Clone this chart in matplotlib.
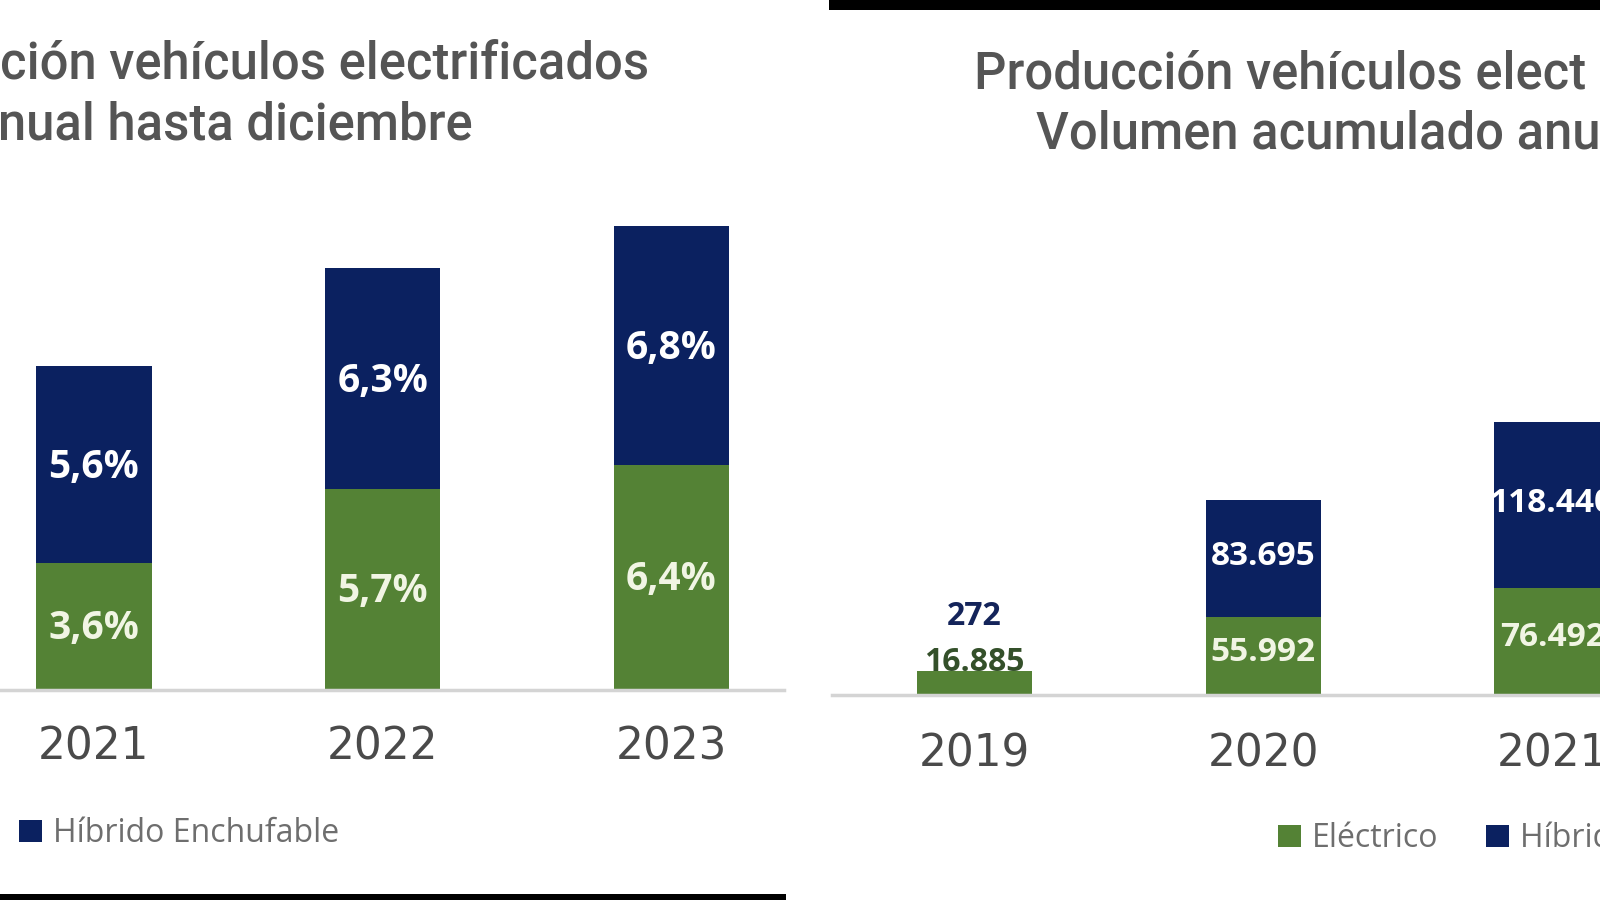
import matplotlib
matplotlib.use("Agg")
import matplotlib.pyplot as plt
from matplotlib.patches import Rectangle, Patch

# ---------------- data ----------------
years_left = ["2021", "2022", "2023"]
elec_pct = [3.6, 5.7, 6.4]
phev_pct = [5.6, 6.3, 6.8]

years_right = ["2019", "2020", "2021"]
elec_units = [16885, 55992, 76492]
phev_units = [272, 83695, 118440]

series_names = ["Eléctrico", "Híbrido Enchufable"]
title_left = ["ción vehículos electrificados", "nual hasta diciembre"]
title_right = ["Producción vehículos elect", "Volumen acumulado anua"]

# ---------------- style ----------------
GREEN = "#548235"
NAVY = "#0b2160"
GRAY_TXT = "#555555"
YEAR_TXT = "#4a4a4a"
LEG_TXT = "#6e6e6e"
AXIS_GRAY = "#d4d4d4"

W, H = 1568.0, 882.0  # reference pixel frame


def fx(p):
    return p / W


def fy(p):
    return 1 - p / H


fig = plt.figure(figsize=(16, 9), dpi=100)
fig.patch.set_facecolor("white")

lab_font = ["Open Sans", "DejaVu Sans"]
title_font = ["Roboto", "DejaVu Sans"]


def fmt_units(v):
    return f"{v:,}".replace(",", ".")


def fmt_pct(v):
    return f"{v:.1f}%".replace(".", ",")


def style_axis(ax, labels, pad):
    for s in ["top", "right", "left"]:
        ax.spines[s].set_visible(False)
    ax.spines["bottom"].set_color(AXIS_GRAY)
    ax.spines["bottom"].set_linewidth(2.5)
    ax.set_yticks([])
    ax.set_xticks(range(len(labels)))
    ax.set_xticklabels(labels, fontsize=31.5, color=YEAR_TXT,
                       family=["DejaVu Sans"])
    ax.tick_params(axis="x", length=0, pad=pad)
    ax.set_facecolor("none")


# ---------------- left panel ----------------
spacing = 283.0
bw = 113.0 / spacing
x_left = list(range(len(years_left)))
ax1 = fig.add_axes([0, fy(676), fx(768), (676 - 150) / H])
ax1.set_xlim((0 - 92) / spacing, (768 - 92) / spacing)
ax1.set_ylim(0, (676 - 150) / 34.45)
ax1.bar(x_left, elec_pct, width=bw, color=GREEN, label=series_names[0])
ax1.bar(x_left, phev_pct, width=bw, bottom=elec_pct, color=NAVY,
        label=series_names[1])
for i in x_left:
    ax1.text(i, elec_pct[i] / 2 - 0.05, fmt_pct(elec_pct[i]), ha="center",
             va="center", fontsize=28, fontweight="bold", color="#f1f5e4",
             family=lab_font)
    ax1.text(i, elec_pct[i] + phev_pct[i] / 2 - 0.08, fmt_pct(phev_pct[i]),
             ha="center", va="center", fontsize=28, fontweight="bold",
             color="white", family=lab_font)
style_axis(ax1, years_left, 26)

# ---------------- right panel ----------------
x_right = list(range(len(years_right)))
ax2 = fig.add_axes([fx(815), fy(681), fx(1568 - 815), (681 - 150) / H])
ax2.set_xlim((815 - 955) / spacing, (1568 - 955) / spacing)
ax2.set_ylim(0, (681 - 150) / 1.37 * 1000)
ax2.bar(x_right, elec_units, width=bw, color=GREEN, label=series_names[0])
ax2.bar(x_right, phev_units, width=bw, bottom=elec_units, color=NAVY,
        label=series_names[1])
for i in x_right:
    if i == 0:
        top = elec_units[i] + phev_units[i]
        ax2.annotate(fmt_units(elec_units[i]), (i, top), xytext=(0, -6),
                     textcoords="offset points", ha="center", va="bottom",
                     fontsize=23, fontweight="bold", color="#34502a",
                     family=lab_font)
        ax2.annotate(fmt_units(phev_units[i]), (i, top), xytext=(0, 27),
                     textcoords="offset points", ha="center", va="bottom",
                     fontsize=23, fontweight="bold", color="#14245a",
                     family=lab_font)
    else:
        ax2.text(i, elec_units[i] / 2 + 2500, fmt_units(elec_units[i]),
                 ha="center", va="center", fontsize=24, fontweight="bold",
                 color="#f1f5e4", family=lab_font)
        ax2.text(i, elec_units[i] + phev_units[i] / 2 + 1500,
                 fmt_units(phev_units[i]), ha="center", va="center",
                 fontsize=24, fontweight="bold", color="white", family=lab_font)
style_axis(ax2, years_right, 27)

# ---------------- titles ----------------
TFS = 36.5
fig.text(fx(0), fy(63), title_left[0], ha="left", va="center", fontsize=TFS,
         fontweight="medium", color=GRAY_TXT, family=title_font)
fig.text(fx(-2), fy(123), title_left[1], ha="left", va="center", fontsize=TFS,
         fontweight="medium", color=GRAY_TXT, family=title_font)
fig.text(fx(955), fy(73), title_right[0], ha="left", va="center", fontsize=TFS,
         fontweight="medium", color=GRAY_TXT, family=title_font)
fig.text(fx(1015), fy(132), title_right[1], ha="left", va="center", fontsize=TFS,
         fontweight="medium", color=GRAY_TXT, family=title_font)

# ---------------- legends ----------------
handles = [Patch(facecolor=GREEN), Patch(facecolor=NAVY)]
leg_kw = dict(ncol=2, frameon=False, handlelength=0.72,
              handleheight=0.72, handletextpad=0.35, columnspacing=1.5,
              borderpad=0, borderaxespad=0,
              prop={"family": ["Open Sans", "DejaVu Sans"], "size": 23})
lg1 = fig.legend(handles, series_names, loc="center left",
                 bbox_to_anchor=(fx(-186), fy(817)), **leg_kw)
lg2 = fig.legend(handles, series_names, loc="center left",
                 bbox_to_anchor=(fx(1252), fy(822)), **leg_kw)
for lg in (lg1, lg2):
    for t in lg.get_texts():
        t.set_color(LEG_TXT)

# ---------------- black frame bars ----------------
fig.add_artist(Rectangle((0, 0), fx(770), 6 / H, transform=fig.transFigure,
                         facecolor="black", edgecolor="none"))
fig.add_artist(Rectangle((fx(812), fy(10)), 1 - fx(812), 10 / H,
                         transform=fig.transFigure, facecolor="black",
                         edgecolor="none"))

fig.savefig("out.png", dpi=100, facecolor="white")
